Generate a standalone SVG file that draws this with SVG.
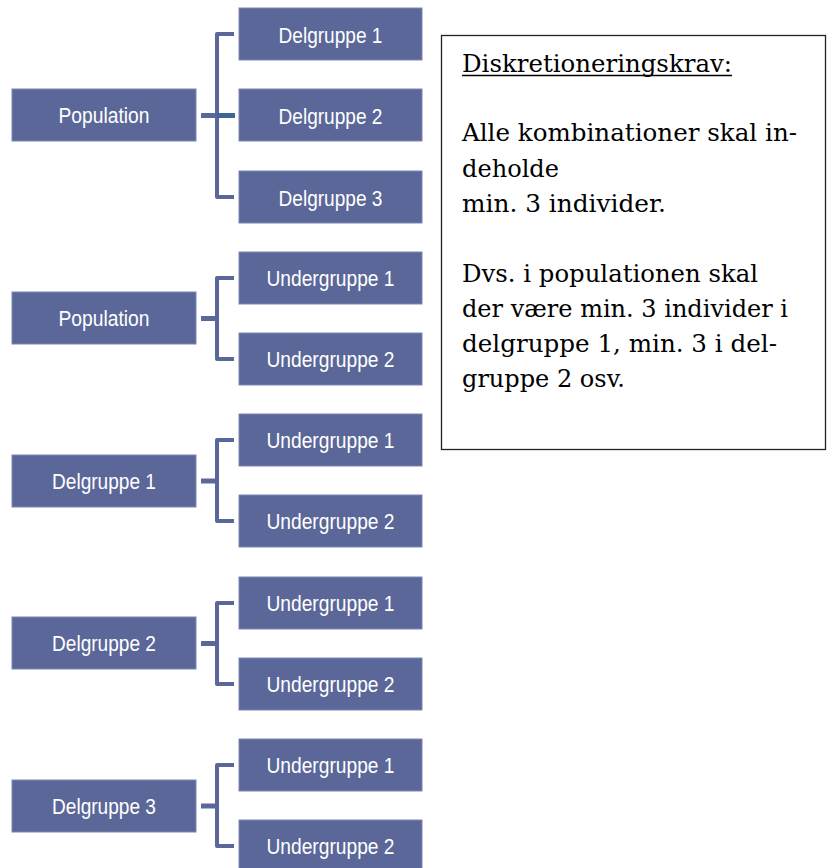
<svg xmlns="http://www.w3.org/2000/svg" width="833" height="868" viewBox="0 0 833 868">
<style>
.box{fill:#5b6799;stroke:#7c87b3;stroke-width:1}
.lbl{font-family:"Liberation Sans",Arial,sans-serif;font-size:22px;fill:#ffffff;text-anchor:middle}
.conn{fill:none;stroke:#5b6799;stroke-width:4;stroke-linejoin:round;stroke-linecap:butt}
.stem{fill:none;stroke:#5b6799;stroke-width:5}
.note{font-family:"DejaVu Serif","Liberation Serif",Georgia,serif;font-size:23.5px;fill:#000000}
</style>
<rect width="833" height="868" fill="#ffffff"/>
<g id="connectors">
  <path class="conn" d="M234,34 H217 V197 H234"/>
  <path class="stem" d="M201,115.5 H217"/>
  <path d="M217,115.5 H235" fill="none" stroke="#3f6595" stroke-width="5"/>
  <path class="conn" d="M234,278 H217 V359 H234"/>
  <path class="stem" d="M201,318.5 H217"/>
  <path class="conn" d="M234,440 H217 V521 H234"/>
  <path class="stem" d="M201,481 H217"/>
  <path class="conn" d="M234,603 H217 V684 H234"/>
  <path class="stem" d="M201,643.5 H217"/>
  <path class="conn" d="M234,765 H217 V846 H234"/>
  <path class="stem" d="M201,806 H217"/>
</g>
<g id="g1-population"><rect class="box" x="12" y="89" width="184" height="52"/><text class="lbl" x="104" y="123" textLength="91" lengthAdjust="spacingAndGlyphs">Population</text></g>
<g id="g1-delgruppe1"><rect class="box" x="239" y="8" width="183" height="52"/><text class="lbl" x="330.5" y="42.5" textLength="104" lengthAdjust="spacingAndGlyphs">Delgruppe 1</text></g>
<g id="g1-delgruppe2"><rect class="box" x="239" y="89" width="183" height="52"/><text class="lbl" x="330.5" y="123.5" textLength="104" lengthAdjust="spacingAndGlyphs">Delgruppe 2</text></g>
<g id="g1-delgruppe3"><rect class="box" x="239" y="171" width="183" height="52"/><text class="lbl" x="330.5" y="205.5" textLength="104" lengthAdjust="spacingAndGlyphs">Delgruppe 3</text></g>

<g id="g2-population"><rect class="box" x="12" y="292" width="184" height="52"/><text class="lbl" x="104" y="326" textLength="91" lengthAdjust="spacingAndGlyphs">Population</text></g>
<g id="g2-undergruppe1"><rect class="box" x="239" y="252" width="183" height="52"/><text class="lbl" x="330.5" y="286" textLength="128" lengthAdjust="spacingAndGlyphs">Undergruppe 1</text></g>
<g id="g2-undergruppe2"><rect class="box" x="239" y="333" width="183" height="52"/><text class="lbl" x="330.5" y="367" textLength="128" lengthAdjust="spacingAndGlyphs">Undergruppe 2</text></g>

<g id="g3-delgruppe1"><rect class="box" x="12" y="455" width="184" height="52"/><text class="lbl" x="104" y="489" textLength="104" lengthAdjust="spacingAndGlyphs">Delgruppe 1</text></g>
<g id="g3-undergruppe1"><rect class="box" x="239" y="414" width="183" height="52"/><text class="lbl" x="330.5" y="448" textLength="128" lengthAdjust="spacingAndGlyphs">Undergruppe 1</text></g>
<g id="g3-undergruppe2"><rect class="box" x="239" y="495" width="183" height="52"/><text class="lbl" x="330.5" y="529" textLength="128" lengthAdjust="spacingAndGlyphs">Undergruppe 2</text></g>

<g id="g4-delgruppe2"><rect class="box" x="12" y="617" width="184" height="52"/><text class="lbl" x="104" y="651" textLength="104" lengthAdjust="spacingAndGlyphs">Delgruppe 2</text></g>
<g id="g4-undergruppe1"><rect class="box" x="239" y="577" width="183" height="52"/><text class="lbl" x="330.5" y="611" textLength="128" lengthAdjust="spacingAndGlyphs">Undergruppe 1</text></g>
<g id="g4-undergruppe2"><rect class="box" x="239" y="658" width="183" height="52"/><text class="lbl" x="330.5" y="692" textLength="128" lengthAdjust="spacingAndGlyphs">Undergruppe 2</text></g>

<g id="g5-delgruppe3"><rect class="box" x="12" y="780" width="184" height="52"/><text class="lbl" x="104" y="814" textLength="104" lengthAdjust="spacingAndGlyphs">Delgruppe 3</text></g>
<g id="g5-undergruppe1"><rect class="box" x="239" y="739" width="183" height="52"/><text class="lbl" x="330.5" y="773" textLength="128" lengthAdjust="spacingAndGlyphs">Undergruppe 1</text></g>
<g id="g5-undergruppe2"><rect class="box" x="239" y="820" width="183" height="52"/><text class="lbl" x="330.5" y="854" textLength="128" lengthAdjust="spacingAndGlyphs">Undergruppe 2</text></g>

<g id="note">
  <rect x="441.5" y="35.5" width="384" height="414" fill="#ffffff" stroke="#222222" stroke-width="1.3"/>
  <text class="note" x="462" y="72" textLength="270" lengthAdjust="spacingAndGlyphs">Diskretioneringskrav:</text>
  <line x1="462" y1="75.5" x2="732" y2="75.5" stroke="#000000" stroke-width="1.3"/>
  <text class="note" x="462" y="141" textLength="335" lengthAdjust="spacingAndGlyphs">Alle kombinationer skal in-</text>
  <text class="note" x="462" y="176.5" textLength="97" lengthAdjust="spacingAndGlyphs">deholde</text>
  <text class="note" x="462" y="212" textLength="204" lengthAdjust="spacingAndGlyphs">min. 3 individer.</text>
  <text class="note" x="462" y="282" textLength="296" lengthAdjust="spacingAndGlyphs">Dvs. i populationen skal</text>
  <text class="note" x="462" y="317" textLength="326" lengthAdjust="spacingAndGlyphs">der være min. 3 individer i</text>
  <text class="note" x="462" y="352" textLength="315" lengthAdjust="spacingAndGlyphs">delgruppe 1, min. 3 i del-</text>
  <text class="note" x="462" y="386.5" textLength="163" lengthAdjust="spacingAndGlyphs">gruppe 2 osv.</text>
</g>
</svg>
